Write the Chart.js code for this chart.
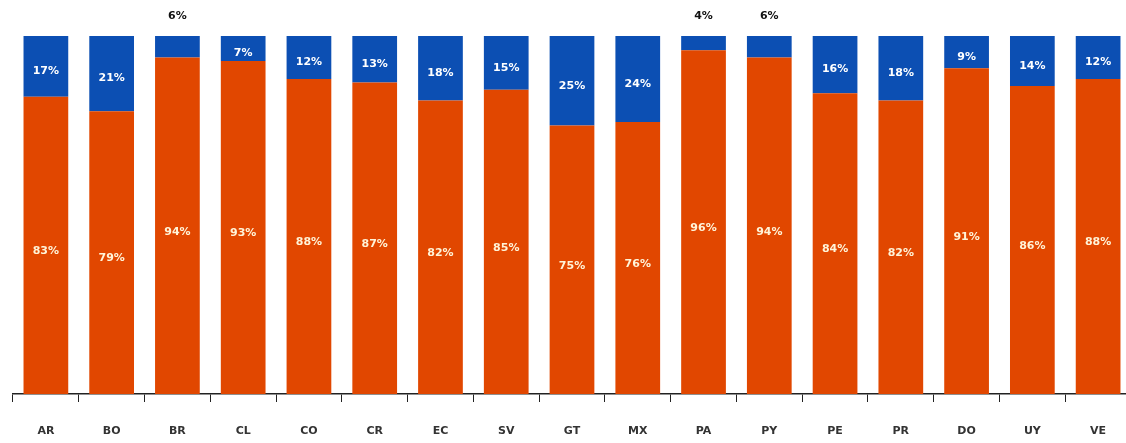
<!DOCTYPE html>
<html>
<head>
<meta charset="utf-8">
<script src="https://cdn.jsdelivr.net/npm/chart.js@4/dist/chart.umd.min.js"></script>
<style>
html,body{margin:0;padding:0;background:#fff;overflow:hidden;}
#wrap{width:1140px;height:443px;position:relative;}
</style>
</head>
<body>
<div id="wrap"><canvas id="c"></canvas></div>
<script>
const categories = ['AR','BO','BR','CL','CO','CR','EC','SV','GT','MX','PA','PY','PE','PR','DO','UY','VE'];
const orangeValues = [83,79,94,93,88,87,82,85,75,76,96,94,84,82,91,86,88];
const blueValues   = [17,21,6,7,12,13,18,15,25,24,4,6,16,18,9,14,12];
const orangeLabels = ['83%','79%','94%','93%','88%','87%','82%','85%','75%','76%','96%','94%','84%','82%','91%','86%','88%'];
const blueLabels   = ['17%','21%','6%','7%','12%','13%','18%','15%','25%','24%','4%','6%','16%','18%','9%','14%','12%'];

const ORANGE = '#E14700';
const BLUE = '#0C4FB3';

const labelPlugin = {
  id: 'segLabels',
  afterDatasetsDraw(chart) {
    const ctx = chart.ctx;
    ctx.save();
    ctx.font = 'bold 11px "DejaVu Sans", sans-serif';
    ctx.textAlign = 'center';
    ctx.textBaseline = 'middle';
    const m0 = chart.getDatasetMeta(0);
    const m1 = chart.getDatasetMeta(1);
    m0.data.forEach((bar, i) => {
      const p = bar.getProps(['x','y','base'], true);
      ctx.fillStyle = '#FFF4D8';
      ctx.fillText(orangeLabels[i], p.x, (p.y + p.base) / 2 + 6);
    });
    m1.data.forEach((bar, i) => {
      const p = bar.getProps(['x','y','base'], true);
      if (blueValues[i] < 7) {
        ctx.fillStyle = '#111';
        ctx.fillText(blueLabels[i], p.x, p.y - 20);
      } else {
        ctx.fillStyle = '#FFFFFF';
        ctx.fillText(blueLabels[i], p.x, (p.y + p.base) / 2 + 5);
      }
    });
    ctx.restore();
  }
};

new Chart(document.getElementById('c'), {
  type: 'bar',
  data: {
    labels: categories,
    datasets: [
      { data: orangeValues, backgroundColor: ORANGE, borderWidth: 0, categoryPercentage: 1, barPercentage: 0.68 },
      { data: blueValues, backgroundColor: BLUE, borderWidth: 0, categoryPercentage: 1, barPercentage: 0.68 }
    ]
  },
  options: {
    responsive: true,
    maintainAspectRatio: false,
    animation: false,
    layout: { padding: { left: 13, right: 9, top: 36, bottom: 6 } },
    plugins: { legend: { display: false }, tooltip: { enabled: false } },
    scales: {
      x: {
        stacked: true,
        offset: true,
        afterFit(scale) { scale.height = 43; },
        grid: { display: true, offset: true, drawOnChartArea: false, drawTicks: true, tickLength: 8, color: '#222', lineWidth: 1 },
        border: { display: true, color: '#222', width: 1.5 },
        ticks: { color: '#333', font: { family: '"DejaVu Sans", sans-serif', size: 11, weight: 'bold' }, padding: 23, maxRotation: 0, autoSkip: false }
      },
      y: {
        stacked: true,
        display: false,
        min: 0,
        max: 100
      }
    }
  },
  plugins: [labelPlugin]
});
</script>
</body>
</html>
